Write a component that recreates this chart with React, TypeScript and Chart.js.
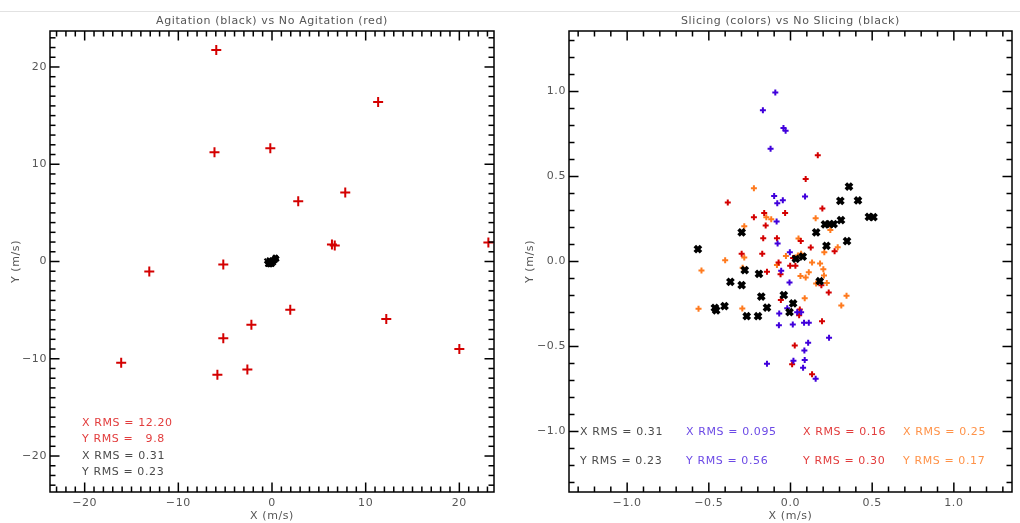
import React, { useEffect, useRef } from "react";
import { Chart, registerables } from "chart.js";
Chart.register(...registerables);

// ---- Data ----
// No Agitation (red, left panel)
const noAgitX = [-5.95, 11.33, -6.14, -0.18, 7.82, 2.8, 6.4, 6.7, 23.1, -13.1, -5.2, 1.95, -2.2, 12.2, -5.2, -16.1, 20.0, -5.83, -2.63];
const noAgitY = [21.75, 16.4, 11.24, 11.65, 7.1, 6.2, 1.75, 1.65, 1.96, -1.03, -0.3, -4.95, -6.5, -5.9, -7.9, -10.4, -9.0, -11.65, -11.1];

// Agitation / No Slicing (black, both panels)
const blackX = [-0.567, -0.299, -0.28, -0.193, -0.368, -0.299, -0.179, -0.041, 0.016, -0.144, -0.006, -0.463, -0.455, -0.404, -0.268, -0.199, 0.033, 0.075, 0.157, 0.22, 0.179, 0.211, 0.24, 0.264, 0.309, 0.305, 0.358, 0.413, 0.346, 0.48, 0.508];
const blackY = [0.073, 0.171, -0.051, -0.073, -0.12, -0.139, -0.206, -0.198, -0.247, -0.271, -0.298, -0.273, -0.288, -0.263, -0.322, -0.322, 0.016, 0.029, 0.171, 0.092, -0.116, 0.218, 0.22, 0.22, 0.243, 0.357, 0.441, 0.359, 0.12, 0.263, 0.261];

// Slicing (blue)
const blueX = [-0.093, -0.169, -0.043, -0.03, -0.122, -0.1, -0.081, -0.047, 0.089, -0.085, -0.079, -0.004, -0.057, -0.006, -0.02, -0.069, 0.041, 0.065, -0.071, 0.014, 0.083, 0.112, 0.236, 0.108, 0.085, 0.018, 0.087, -0.144, 0.077, 0.154];
const blueY = [0.994, 0.89, 0.786, 0.769, 0.663, 0.386, 0.343, 0.361, 0.382, 0.235, 0.106, 0.055, -0.055, -0.124, -0.275, -0.306, -0.298, -0.298, -0.375, -0.371, -0.361, -0.361, -0.449, -0.478, -0.524, -0.584, -0.58, -0.602, -0.625, -0.69];

// Slicing (red)
const redX = [0.167, 0.093, -0.384, 0.195, -0.161, -0.033, -0.224, -0.152, -0.167, -0.083, 0.063, 0.124, 0.27, -0.299, -0.173, -0.073, -0.144, -0.061, -0.002, 0.03, 0.016, 0.189, 0.234, -0.059, 0.057, 0.053, 0.193, 0.026, 0.01, 0.132];
const redY = [0.625, 0.486, 0.347, 0.312, 0.286, 0.286, 0.261, 0.212, 0.137, 0.137, 0.12, 0.082, 0.061, 0.045, 0.045, -0.006, -0.061, -0.075, -0.025, -0.025, 0.02, -0.139, -0.182, -0.227, -0.282, -0.316, -0.351, -0.494, -0.604, -0.663];

// Slicing (orange)
const orangeX = [-0.224, 0.154, -0.148, -0.118, -0.283, 0.244, 0.049, 0.289, -0.4, -0.283, 0.207, -0.028, 0.045, 0.065, -0.545, -0.293, -0.083, 0.132, 0.181, 0.201, 0.112, 0.061, 0.093, 0.205, 0.157, 0.222, 0.343, 0.311, 0.087, -0.563, -0.295];
const orangeY = [0.431, 0.255, 0.261, 0.249, 0.208, 0.186, 0.135, 0.084, 0.008, 0.024, 0.055, 0.033, 0.035, 0.045, -0.053, -0.037, -0.02, -0.006, -0.012, -0.045, -0.063, -0.086, -0.094, -0.082, -0.129, -0.127, -0.202, -0.259, -0.216, -0.278, -0.276];

// Tick labels
const leftTicks = [-20, -10, 0, 10, 20];
const rightTicks = [-1.0, -0.5, 0.0, 0.5, 1.0];

const leftTitle = "Agitation (black) vs No Agitation (red)";
const rightTitle = "Slicing (colors) vs No Slicing (black)";
const xTitle = "X (m/s)";
const yTitle = "Y (m/s)";

const leftNotes = [
  { text: "X RMS = 12.20", color: "#e23c3c" },
  { text: "Y RMS =   9.8", color: "#e23c3c" },
  { text: "X RMS = 0.31", color: "#4a4a4a" },
  { text: "Y RMS = 0.23", color: "#4a4a4a" },
];
const rightNotes = [
  ["X RMS = 0.31", "Y RMS = 0.23", "#4a4a4a"],
  ["X RMS = 0.095", "Y RMS = 0.56", "#6c4ae6"],
  ["X RMS = 0.16", "Y RMS = 0.30", "#e23c3c"],
  ["X RMS = 0.25", "Y RMS = 0.17", "#ff9248"],
];

const FONT = "DejaVu Sans";
const TXT = "#555555";

const pts = (xs: number[], ys: number[]) => xs.map((x, i) => ({ x, y: ys[i] }));
const fmt = (v: number, digits: number) => {
  const s = Math.abs(v).toFixed(digits);
  return v < -1e-9 ? "\u2212" + s : s;
};

function framePlugin(cfg: {
  lim: number;
  major: number;
  minor: number;
  ticks: number[];
  digits: number;
  title: string;
  yTitleX: number;
  notes: (ctx: CanvasRenderingContext2D) => void;
}) {
  return {
    id: "frame",
    afterDraw(chart: any) {
      const ctx: any = chart.ctx;
      const a = chart.chartArea;
      const xs = chart.scales.x;
      const ys = chart.scales.y;
      ctx.save();
      ctx.fillStyle = "#000";
      const W = 1.5;
      const k0 = Math.ceil(-cfg.lim / cfg.minor - 1e-9);
      const k1 = Math.floor(cfg.lim / cfg.minor + 1e-9);
      for (let k = k0; k <= k1; k++) {
        const v = k * cfg.minor;
        const r = v / cfg.major;
        const isMajor = Math.abs(r - Math.round(r)) < 1e-6;
        const len = isMajor ? 9.5 : 5.5;
        const px = xs.getPixelForValue(v);
        const py = ys.getPixelForValue(v);
        ctx.fillRect(px - W / 2, a.bottom - len, W, len);
        ctx.fillRect(px - W / 2, a.top, W, len);
        ctx.fillRect(a.left, py - W / 2, len, W);
        ctx.fillRect(a.right - len, py - W / 2, len, W);
      }
      ctx.strokeStyle = "#000";
      ctx.lineWidth = 1.5;
      ctx.strokeRect(a.left, a.top, a.right - a.left, a.bottom - a.top);

      ctx.fillStyle = TXT;
      ctx.font = `11px "${FONT}"`;
      ctx.letterSpacing = "0.6px";
      ctx.textBaseline = "middle";

      // tick labels
      ctx.textAlign = "center";
      cfg.ticks.forEach((v) => {
        ctx.fillText(fmt(v, cfg.digits), xs.getPixelForValue(v), 503);
      });
      ctx.textAlign = "right";
      cfg.ticks.forEach((v) => {
        ctx.fillText(fmt(v, cfg.digits), a.left - 3, ys.getPixelForValue(v));
      });

      ctx.textAlign = "center";
      const cx = (a.left + a.right) / 2;
      ctx.fillText(cfg.title, cx, 21);
      ctx.fillText(xTitle, cx, 516);
      ctx.save();
      ctx.translate(cfg.yTitleX, (a.top + a.bottom) / 2);
      ctx.rotate(-Math.PI / 2);
      ctx.fillText(yTitle, 0, 0);
      ctx.restore();
      ctx.textAlign = "left";
      cfg.notes(ctx);
      ctx.restore();
    },
  };
}

function makeOptions(o: { lim: number; yWidth: number; rightPad: number }) {
  return {
    animation: false,
    responsive: false,
    maintainAspectRatio: false,
    layout: { padding: { top: 31, right: o.rightPad, left: 0, bottom: 0 } },
    plugins: { legend: { display: false }, tooltip: { enabled: false }, title: { display: false } },
    scales: {
      x: {
        type: "linear",
        min: -o.lim,
        max: o.lim,
        grid: { display: false, drawTicks: false },
        border: { display: false },
        ticks: { display: false },
        afterFit: (s: any) => { s.height = 31; },
      },
      y: {
        type: "linear",
        min: -o.lim,
        max: o.lim,
        grid: { display: false, drawTicks: false },
        border: { display: false },
        ticks: { display: false },
        afterFit: (s: any) => { s.width = o.yWidth; },
      },
    },
  };
}

export default function App() {
  const leftRef = useRef<HTMLCanvasElement>(null);
  const rightRef = useRef<HTMLCanvasElement>(null);

  useEffect(() => {
    const LLIM = 23.7;
    const RLIM = 1.356;
    const left = new Chart(leftRef.current!, {
      type: "scatter",
      data: {
        datasets: [
          {
            data: pts(blackX, blackY),
            pointStyle: "crossRot",
            pointRadius: 3,
            borderWidth: 2.2,
            borderColor: "#000",
            backgroundColor: "#000",
          },
          {
            data: pts(noAgitX, noAgitY),
            pointStyle: "cross",
            pointRadius: 5,
            borderWidth: 2,
            borderColor: "#d40000",
            backgroundColor: "#d40000",
          },
        ],
      },
      options: makeOptions({ lim: LLIM, yWidth: 50, rightPad: 16 }) as any,
      plugins: [
        framePlugin({
          lim: LLIM,
          major: 10,
          minor: 1,
          ticks: leftTicks,
          digits: 0,
          title: leftTitle,
          yTitleX: 16,
          notes: (ctx) => {
            leftNotes.forEach((n, i) => {
              ctx.fillStyle = n.color;
              ctx.fillText(n.text, 82, 423 + i * 16.5);
            });
          },
        }),
      ],
    });

    const right = new Chart(rightRef.current!, {
      type: "scatter",
      data: {
        datasets: [
          {
            data: pts(blackX, blackY),
            pointStyle: "crossRot",
            pointRadius: 4.4,
            borderWidth: 3.6,
            borderColor: "#000",
            backgroundColor: "#000",
          },
          {
            data: pts(blueX, blueY),
            pointStyle: "cross",
            pointRadius: 3,
            borderWidth: 2,
            borderColor: "#4000dc",
            backgroundColor: "#4000dc",
          },
          {
            data: pts(redX, redY),
            pointStyle: "cross",
            pointRadius: 3,
            borderWidth: 2,
            borderColor: "#d40000",
            backgroundColor: "#d40000",
          },
          {
            data: pts(orangeX, orangeY),
            pointStyle: "cross",
            pointRadius: 3,
            borderWidth: 2,
            borderColor: "#ff7a1e",
            backgroundColor: "#ff7a1e",
          },
        ],
      },
      options: makeOptions({ lim: RLIM, yWidth: 59, rightPad: 7 }) as any,
      plugins: [
        framePlugin({
          lim: RLIM,
          major: 0.5,
          minor: 0.1,
          ticks: rightTicks,
          digits: 1,
          title: rightTitle,
          yTitleX: 20,
          notes: (ctx) => {
            const cols = [70, 176, 293, 393];
            rightNotes.forEach((n, i) => {
              ctx.fillStyle = n[2] as string;
              ctx.fillText(n[0], cols[i], 432);
              ctx.fillText(n[1], cols[i], 461);
            });
          },
        }),
      ],
    });

    return () => {
      left.destroy();
      right.destroy();
    };
  }, []);

  return (
    <div style={{ position: "absolute", left: 0, top: 0, width: 1020, height: 523, background: "#fff", overflow: "hidden" }}>
      <div style={{ position: "absolute", left: 0, top: 11, width: 1020, height: 1, background: "#e2e2e2" }} />
      <canvas ref={leftRef} width={510} height={523} style={{ position: "absolute", left: 0, top: 0 }} />
      <canvas ref={rightRef} width={510} height={523} style={{ position: "absolute", left: 510, top: 0 }} />
    </div>
  );
}
